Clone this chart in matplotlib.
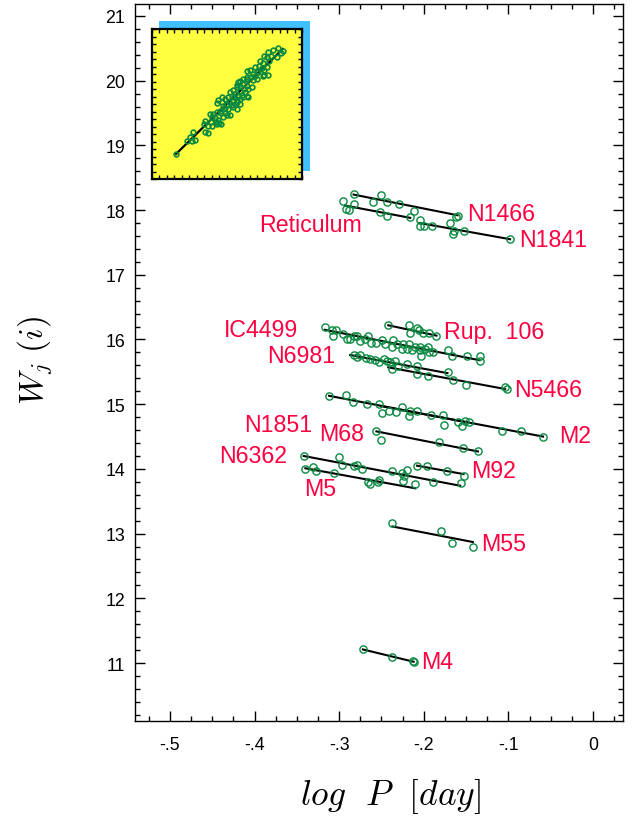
import matplotlib
matplotlib.use("Agg")
import matplotlib.pyplot as plt
from matplotlib.ticker import FixedLocator, FixedFormatter, MultipleLocator

plt.rcParams['font.family'] = ['Liberation Sans', 'DejaVu Sans']
plt.rcParams['mathtext.fontset'] = 'cm'

# ---------------- data (log P [day], W_j(i)) ----------------
n1466_x = [-0.283, -0.250, -0.260, -0.243, -0.229, -0.212, -0.162, -0.159]
n1466_y = [18.25, 18.23, 18.12, 18.12, 18.09, 17.99, 17.89, 17.91]
n1466_fit_x = [-0.283, -0.160]
n1466_fit_y = [18.24, 17.92]

ret_x = [-0.295, -0.283, -0.292, -0.289, -0.252, -0.243, -0.216]
ret_y = [18.14, 18.09, 18.02, 18.00, 17.97, 17.91, 17.90]
ret_fit_x = [-0.293, -0.216]
ret_fit_y = [18.07, 17.88]

n1841_x = [-0.205, -0.205, -0.200, -0.190, -0.169, -0.164, -0.166, -0.153, -0.098]
n1841_y = [17.85, 17.76, 17.76, 17.75, 17.80, 17.68, 17.63, 17.67, 17.55]
n1841_fit_x = [-0.205, -0.098]
n1841_fit_y = [17.80, 17.55]

rup_x = [-0.242, -0.217, -0.216, -0.208, -0.206, -0.201, -0.194, -0.185]
rup_y = [16.23, 16.23, 16.10, 16.18, 16.14, 16.10, 16.10, 16.05]
rup_fit_x = [-0.242, -0.185]
rup_fit_y = [16.22, 16.06]

ic4499_x = [-0.317, -0.309, -0.304, -0.307, -0.295, -0.291, -0.287, -0.283, -0.279,
            -0.275, -0.270, -0.266, -0.262, -0.256, -0.249, -0.246, -0.238, -0.236,
            -0.232, -0.225, -0.226, -0.220, -0.218, -0.214, -0.210, -0.205, -0.205,
            -0.203, -0.199, -0.195, -0.194, -0.189, -0.171, -0.167, -0.149, -0.134, -0.134]
ic4499_y = [16.19, 16.14, 16.14, 16.05, 16.08, 16.01, 16.00, 16.06, 16.05,
            15.97, 16.01, 16.05, 15.95, 15.95, 15.99, 15.93, 15.88, 15.99,
            15.93, 15.93, 15.85, 15.85, 15.93, 15.83, 15.89, 15.89, 15.83,
            15.75, 15.85, 15.88, 15.80, 15.80, 15.83, 15.75, 15.75, 15.74, 15.66]
ic4499_fit_x = [-0.317, -0.134]
ic4499_fit_y = [16.15, 15.68]

n6981_x = [-0.283, -0.279, -0.275, -0.268, -0.264, -0.258, -0.253, -0.247, -0.244,
           -0.240, -0.234, -0.231, -0.220, -0.208, -0.171]
n6981_y = [15.76, 15.73, 15.76, 15.72, 15.70, 15.69, 15.65, 15.70, 15.66,
           15.65, 15.67, 15.59, 15.62, 15.59, 15.49]
n6981_fit_x = [-0.287, -0.172]
n6981_fit_y = [15.76, 15.48]

n5466_x = [-0.238, -0.208, -0.195, -0.165, -0.150, -0.104, -0.102]
n5466_y = [15.55, 15.47, 15.44, 15.38, 15.30, 15.26, 15.23]
n5466_fit_x = [-0.242, -0.104]
n5466_fit_y = [15.57, 15.235]

n1851_x = [-0.312, -0.292, -0.284, -0.267, -0.253, -0.249, -0.241, -0.233, -0.226,
           -0.217, -0.216, -0.208]
n1851_y = [15.13, 15.14, 15.04, 15.01, 15.01, 14.87, 14.90, 14.88, 14.95,
           14.82, 14.90, 14.90]
n1851_fit_x = [-0.312, -0.149]
n1851_fit_y = [15.13, 14.72]

m2_x = [-0.192, -0.177, -0.176, -0.159, -0.155, -0.151, -0.147, -0.108, -0.085, -0.059]
m2_y = [14.84, 14.83, 14.68, 14.73, 14.66, 14.74, 14.72, 14.59, 14.59, 14.50]
m2_fit_x = [-0.250, -0.059]
m2_fit_y = [14.97, 14.50]

m68_x = [-0.256, -0.250, -0.182, -0.154, -0.136]
m68_y = [14.58, 14.45, 14.42, 14.32, 14.27]
m68_fit_x = [-0.256, -0.136]
m68_fit_y = [14.58, 14.27]

n6362_x = [-0.342, -0.300, -0.297, -0.283, -0.279, -0.273, -0.237, -0.226, -0.220,
           -0.223, -0.225, -0.189, -0.156]
n6362_y = [14.20, 14.18, 14.06, 14.04, 14.06, 14.00, 13.96, 13.93, 13.99,
           13.89, 13.82, 13.79, 13.78]
n6362_fit_x = [-0.342, -0.157]
n6362_fit_y = [14.20, 13.74]

m5_x = [-0.340, -0.331, -0.328, -0.306, -0.266, -0.263, -0.254, -0.253, -0.210]
m5_y = [14.00, 14.03, 13.96, 13.94, 13.80, 13.76, 13.79, 13.83, 13.77]
m5_fit_x = [-0.340, -0.210]
m5_fit_y = [14.01, 13.70]

m92_x = [-0.208, -0.196, -0.172, -0.153]
m92_y = [14.04, 14.05, 13.96, 13.89]
m92_fit_x = [-0.208, -0.153]
m92_fit_y = [14.05, 13.92]

m55_x = [-0.237, -0.180, -0.167, -0.142]
m55_y = [13.16, 13.04, 12.85, 12.79]
m55_fit_x = [-0.237, -0.142]
m55_fit_y = [13.11, 12.87]

m4_x = [-0.272, -0.238, -0.212, -0.213]
m4_y = [11.22, 11.09, 11.02, 11.03]
m4_fit_x = [-0.272, -0.212]
m4_fit_y = [11.21, 11.02]

# cluster labels and where they are written (data coords)
label_text = ["N1466", "N1841", "Reticulum", "IC4499", "Rup.  106", "N6981", "N5466",
              "N1851", "M2", "M68", "N6362", "M92", "M5", "M55", "M4"]
label_x = [-0.149, -0.087, -0.395, -0.436, -0.176, -0.385, -0.093,
           -0.412, -0.040, -0.324, -0.442, -0.144, -0.341, -0.132, -0.203]
label_y = [17.94, 17.54, 17.77, 16.15, 16.12, 15.745, 15.22,
           14.68, 14.51, 14.54, 14.20, 13.97, 13.69, 12.85, 11.03]

x_ticks = [-0.5, -0.4, -0.3, -0.2, -0.1, 0.0]
x_ticklabels = ["-.5", "-.4", "-.3", "-.2", "-.1", "0"]
y_ticks = [11, 12, 13, 14, 15, 16, 17, 18, 19, 20, 21]

# inset: combined relation (normalised inset units)
inset_x = [0.836, 0.803, 0.869, 0.861, 0.774, 0.746, 0.763, 0.790, 0.830, 0.719, 0.737,
           0.781, 0.710, 0.730, 0.686, 0.697, 0.748, 0.774, 0.737, 0.675, 0.653, 0.635,
           0.701, 0.670, 0.626, 0.608, 0.586, 0.575, 0.564, 0.586, 0.604, 0.631, 0.642,
           0.664, 0.564, 0.542, 0.520, 0.553, 0.575, 0.597, 0.619, 0.631, 0.608, 0.642,
           0.586, 0.564, 0.542, 0.531, 0.509, 0.515, 0.498, 0.531, 0.553, 0.569, 0.586,
           0.465, 0.438, 0.465, 0.436, 0.476, 0.487, 0.454, 0.431, 0.409, 0.387, 0.398,
           0.420, 0.442, 0.427, 0.392, 0.354, 0.347, 0.376, 0.398, 0.431, 0.449, 0.458,
           0.502, 0.520, 0.471, 0.487, 0.354, 0.376, 0.277, 0.254, 0.232, 0.288, 0.265,
           0.162, 0.631, 0.657, 0.686, 0.708, 0.746, 0.763, 0.586, 0.613, 0.635, 0.546,
           0.487, 0.509, 0.538, 0.564, 0.458]
inset_y = [0.871, 0.860, 0.851, 0.838, 0.849, 0.822, 0.816, 0.820, 0.816, 0.789, 0.771,
           0.789, 0.751, 0.740, 0.744, 0.722, 0.693, 0.696, 0.689, 0.700, 0.727, 0.718,
           0.667, 0.660, 0.656, 0.667, 0.656, 0.644, 0.629, 0.622, 0.633, 0.622, 0.600,
           0.611, 0.611, 0.593, 0.578, 0.567, 0.556, 0.562, 0.578, 0.556, 0.544, 0.544,
           0.533, 0.527, 0.518, 0.556, 0.544, 0.511, 0.500, 0.496, 0.500, 0.511, 0.500,
           0.544, 0.527, 0.511, 0.504, 0.489, 0.471, 0.456, 0.444, 0.433, 0.433, 0.411,
           0.407, 0.393, 0.378, 0.378, 0.389, 0.367, 0.356, 0.356, 0.367, 0.371, 0.367,
           0.427, 0.429, 0.411, 0.438, 0.311, 0.304, 0.311, 0.282, 0.256, 0.260, 0.256,
           0.167, 0.682, 0.678, 0.689, 0.711, 0.727, 0.744, 0.589, 0.600, 0.667, 0.544,
           0.533, 0.467, 0.478, 0.467, 0.438]
inset_fit_x = [0.162, 0.870]
inset_fit_y = [0.167, 0.867]

# ---------------- figure ----------------
GREEN = "#0a8a40"
RED = "#ff0040"

fig = plt.figure(figsize=(6.38, 8.20), dpi=100)
ax = fig.add_axes([135/638, 1-722/820, (623-135)/638, (722-5)/820])

clusters = [
    (n1466_x, n1466_y, n1466_fit_x, n1466_fit_y),
    (ret_x, ret_y, ret_fit_x, ret_fit_y),
    (n1841_x, n1841_y, n1841_fit_x, n1841_fit_y),
    (rup_x, rup_y, rup_fit_x, rup_fit_y),
    (ic4499_x, ic4499_y, ic4499_fit_x, ic4499_fit_y),
    (n6981_x, n6981_y, n6981_fit_x, n6981_fit_y),
    (n5466_x, n5466_y, n5466_fit_x, n5466_fit_y),
    (n1851_x, n1851_y, n1851_fit_x, n1851_fit_y),
    (m2_x, m2_y, m2_fit_x, m2_fit_y),
    (m68_x, m68_y, m68_fit_x, m68_fit_y),
    (n6362_x, n6362_y, n6362_fit_x, n6362_fit_y),
    (m5_x, m5_y, m5_fit_x, m5_fit_y),
    (m92_x, m92_y, m92_fit_x, m92_fit_y),
    (m55_x, m55_y, m55_fit_x, m55_fit_y),
    (m4_x, m4_y, m4_fit_x, m4_fit_y),
]
for xs, ys, fx, fy in clusters:
    ax.plot(fx, fy, color="black", lw=1.5, zorder=2)
    ax.plot(xs, ys, ls="none", marker="o", ms=5.2, mfc="none", mec=GREEN, mew=1.0, zorder=3)

for t, lx, ly in zip(label_text, label_x, label_y):
    ax.text(lx, ly, t, color=RED, fontsize=16.7, ha="left", va="center")

ax.set_xlim(-0.5414, 0.0355)
ax.set_ylim(10.104, 21.185)
ax.xaxis.set_major_locator(FixedLocator(x_ticks))
ax.xaxis.set_major_formatter(FixedFormatter(x_ticklabels))
ax.xaxis.set_minor_locator(MultipleLocator(0.025))
ax.yaxis.set_major_locator(FixedLocator(y_ticks))
ax.yaxis.set_minor_locator(MultipleLocator(0.2))
ax.tick_params(which="both", direction="in", top=True, right=True, labelsize=12.8, width=1.0)
ax.tick_params(which="major", length=7)
ax.tick_params(which="minor", length=3.5)
ax.tick_params(axis="x", pad=11)
ax.tick_params(axis="y", pad=7)
for s in ax.spines.values():
    s.set_linewidth(1.0)

fig.text(390/638, 1-797/820, r"$log\ \ P\ \ [day]$", fontsize=25.5, ha="center", va="center")
fig.text(35/638, 1-360/820, r"$W_j\ (i)$", fontsize=24, ha="center", va="center", rotation=90)

# inset with shadow
shadow = fig.add_axes([159.3/638, 1-171.7/820, 150.7/638, 150/820])
shadow.set_facecolor("#40c0ff")
shadow.set_xticks([]); shadow.set_yticks([])
for s in shadow.spines.values():
    s.set_visible(False)

ins = fig.add_axes([151.7/638, 1-180/820, 150.6/638, 150/820])
ins.set_facecolor("#ffff40")
ins.plot(inset_fit_x, inset_fit_y, color="black", lw=1.6, zorder=2)
ins.plot(inset_x, inset_y, ls="none", marker="o", ms=3.4, mfc="none", mec=GREEN, mew=1.2, zorder=3)
ins.set_xlim(0, 1)
ins.set_ylim(0, 1)
ins.xaxis.set_major_locator(MultipleLocator(0.05))
ins.yaxis.set_major_locator(MultipleLocator(0.05))
ins.tick_params(which="both", direction="in", top=True, right=True, labelbottom=False,
                labelleft=False, length=3, width=1.0)
for s in ins.spines.values():
    s.set_linewidth(1.6)

fig.savefig("out.png", dpi=100)
